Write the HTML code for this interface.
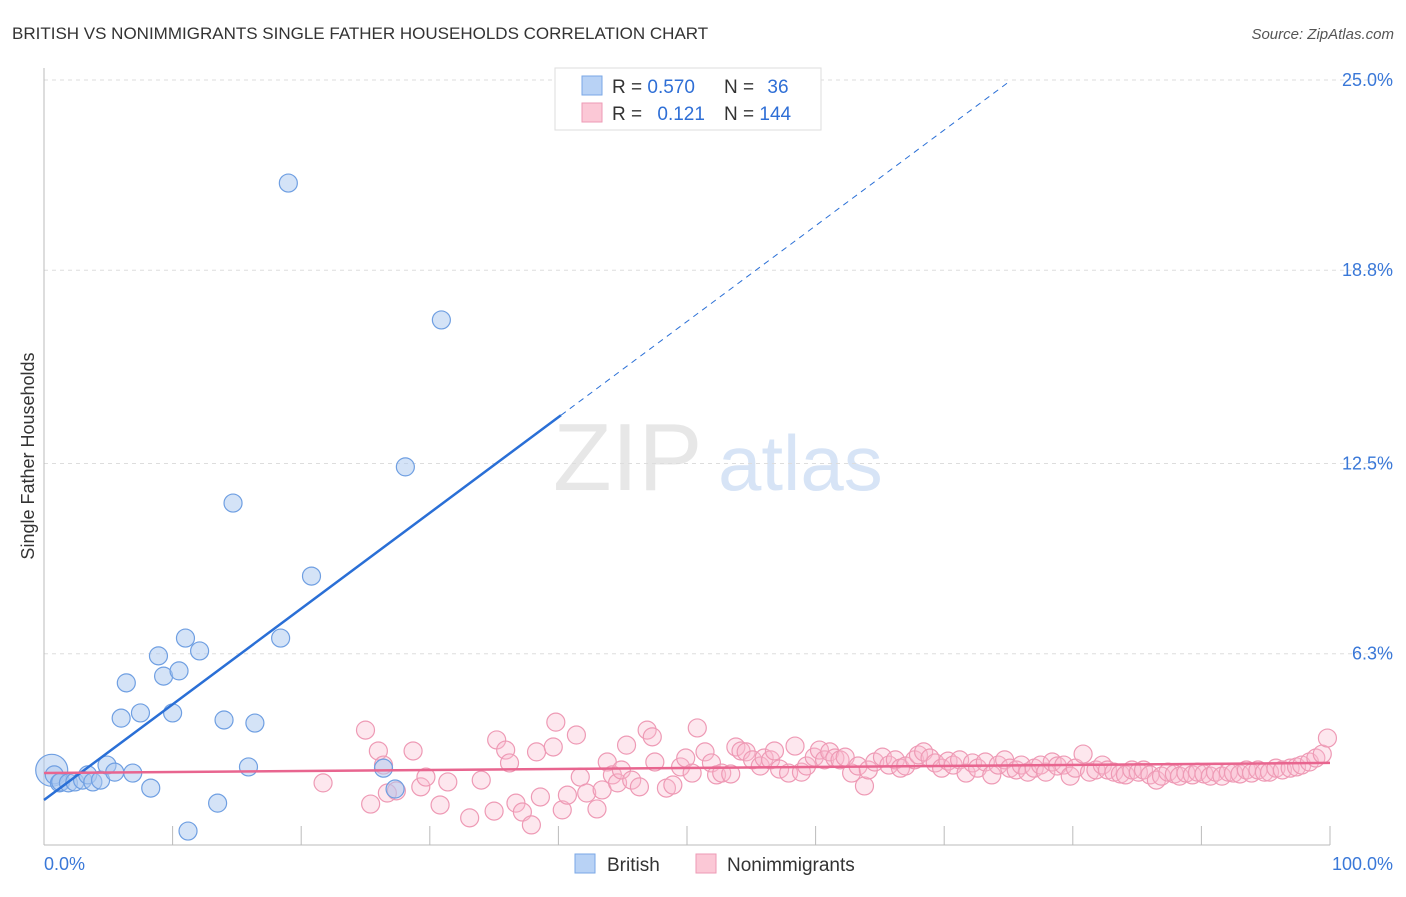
<!DOCTYPE html>
<html><head><meta charset="utf-8"><style>
body{margin:0;background:#fff;font-family:"Liberation Sans",sans-serif;}
svg text{font-family:"Liberation Sans",sans-serif;}
</style></head><body>
<svg id="c" width="1406" height="892">
<text x="12" y="39" font-size="17" fill="#333">BRITISH VS NONIMMIGRANTS SINGLE FATHER HOUSEHOLDS CORRELATION CHART</text>
<text x="1394" y="39" font-size="15" fill="#555" font-style="italic" text-anchor="end">Source: ZipAtlas.com</text>
<g opacity="0.35">
<text x="553" y="490" font-size="96" font-family="Liberation Serif" fill="#bbb">ZIP</text>
<text x="718" y="490" font-size="78" fill="#8fb3e6">atlas</text>
</g>
<g id="grid"></g><g id="axes"></g><g id="pts"></g><g id="lines"></g>
<g>
<rect x="555" y="68" width="266" height="62" fill="#fff" stroke="#ddd"/>
<rect x="582" y="76" width="20" height="19" fill="#b8d2f5" stroke="#7aa7e6"/>
<text x="612" y="93" font-size="19" fill="#333">R = <tspan fill="#2f6fd6">0.570</tspan></text>
<text x="724" y="93" font-size="19" fill="#333">N = <tspan fill="#2f6fd6" dx="8">36</tspan></text>
<rect x="582" y="103" width="20" height="19" fill="#fbc8d6" stroke="#ee9ab5"/>
<text x="612" y="120" font-size="19" fill="#333">R = <tspan fill="#2f6fd6" dx="10">0.121</tspan></text>
<text x="724" y="120" font-size="19" fill="#333">N = <tspan fill="#2f6fd6">144</tspan></text>
</g>
<g>
<rect x="575" y="854" width="20" height="19" fill="#b8d2f5" stroke="#7aa7e6"/>
<text x="607" y="871" font-size="19" fill="#333">British</text>
<rect x="696" y="854" width="20" height="19" fill="#fbc8d6" stroke="#ee9ab5"/>
<text x="727" y="871" font-size="19" fill="#333">Nonimmigrants</text>
</g>
<text transform="translate(34,456) rotate(-90)" font-size="18" fill="#333" text-anchor="middle">Single Father Households</text>
</svg>
<script>
const yTicks=[6.3,12.5,18.8,25.0];
const yTickLabels=["6.3%","12.5%","18.8%","25.0%"];
const britX=[0.6,0.8,1.2,1.3,1.9,2.4,3.0,3.4,3.8,4.4,4.9,5.5,6.0,6.4,6.9,7.5,8.3,8.9,9.3,10.0,10.5,11.0,11.2,12.1,13.5,14.0,14.7,15.9,16.4,18.4,19.0,20.8,26.4,27.3,28.1,30.9];
const britY=[2.5,2.35,2.09,2.12,2.09,2.12,2.18,2.35,2.12,2.18,2.67,2.44,4.2,5.35,2.41,4.37,1.92,6.23,5.57,4.37,5.74,6.81,0.52,6.39,1.43,4.14,11.21,2.61,4.04,6.81,21.64,8.83,2.57,1.89,12.39,17.18];
const nonX=[21.7,25.0,25.4,26.0,26.4,26.7,27.4,28.7,29.3,29.7,30.8,31.4,33.1,34.0,35.0,35.2,35.9,36.2,36.7,37.2,37.9,38.3,38.6,39.6,39.8,40.3,40.7,41.4,41.7,42.2,43.0,43.4,43.8,44.2,44.6,44.9,45.3,45.7,46.3,46.9,47.3,47.5,48.4,48.9,49.5,49.9,50.4,50.8,51.4,51.9,52.3,52.7,53.4,53.8,54.2,54.6,55.1,55.7,56.0,56.5,56.8,57.2,57.9,58.4,58.9,59.3,59.9,60.3,60.7,61.1,61.5,61.9,62.3,62.8,63.3,63.8,64.1,64.6,65.2,65.7,66.2,66.6,67.0,67.7,68.0,68.4,68.9,69.3,69.8,70.3,70.7,71.2,71.7,72.2,72.6,73.2,73.7,74.2,74.7,75.1,75.6,76.0,76.5,77.0,77.5,77.9,78.4,78.8,79.3,79.8,80.2,80.8,81.3,81.8,82.3,82.7,83.2,83.7,84.1,84.6,85.1,85.5,86.0,86.5,86.9,87.4,87.9,88.3,88.8,89.3,89.7,90.2,90.7,91.1,91.6,92.1,92.5,93.0,93.5,93.9,94.4,94.9,95.3,95.8,96.3,96.9,97.4,97.8,98.4,98.9,99.4,99.8];
const nonY=[2.09,3.81,1.40,3.13,2.67,1.76,1.83,3.13,1.96,2.28,1.37,2.12,0.95,2.18,1.17,3.49,3.16,2.74,1.43,1.14,0.72,3.10,1.63,3.26,4.07,1.21,1.69,3.65,2.28,1.76,1.24,1.86,2.77,2.35,2.09,2.51,3.32,2.18,1.96,3.81,3.59,2.77,1.92,2.02,2.61,2.90,2.41,3.88,3.10,2.74,2.35,2.41,2.38,3.26,3.13,3.10,2.84,2.64,2.90,2.84,3.13,2.54,2.41,3.29,2.44,2.64,2.93,3.16,2.84,3.10,2.90,2.84,2.93,2.41,2.64,1.99,2.51,2.77,2.93,2.67,2.84,2.57,2.64,2.84,3.00,3.10,2.90,2.74,2.57,2.80,2.67,2.84,2.41,2.74,2.57,2.77,2.35,2.67,2.84,2.57,2.51,2.67,2.44,2.57,2.67,2.44,2.77,2.64,2.67,2.31,2.57,3.03,2.44,2.51,2.67,2.51,2.44,2.38,2.35,2.51,2.44,2.51,2.35,2.18,2.31,2.44,2.38,2.31,2.41,2.35,2.44,2.38,2.31,2.44,2.31,2.44,2.41,2.38,2.51,2.41,2.51,2.44,2.44,2.57,2.51,2.57,2.61,2.67,2.77,2.90,3.03,3.55];
const britTrend=[1.53,0.312];   // intercept, slope per %
const nonTrend=[2.41,0.0033];
const X=v=>44+v*12.86, Y=v=>847-v*30.68;
const NS="http://www.w3.org/2000/svg";
function mk(t,a,p){const e=document.createElementNS(NS,t);for(const k in a)e.setAttribute(k,a[k]);p.appendChild(e);return e;}
const grid=document.getElementById('grid'),axes=document.getElementById('axes'),pts=document.getElementById('pts'),lines=document.getElementById('lines');
yTicks.forEach((t,i)=>{
 const g=mk('line',{x1:44,x2:1395,y1:Y(t),y2:Y(t),stroke:'#ddd','stroke-dasharray':'4,4'},grid);
 
 
 const l=mk('text',{x:1393,y:Y(t)+6,'font-size':18,fill:'#3a78d8','text-anchor':'end'},grid);
 l.textContent=yTickLabels[i];
 
 
});
mk('line',{x1:44,x2:44,y1:68,y2:845,stroke:'#bbb'},axes);
mk('line',{x1:44,x2:1330,y1:845,y2:845,stroke:'#bbb'},axes);
for(let i=1;i<=10;i++){const t=mk('line',{x1:X(i*10),x2:X(i*10),y1:826,y2:845,stroke:'#bbb'},axes);}
const xl0=mk('text',{x:44,y:870,'font-size':18,fill:'#3a78d8'},axes);xl0.textContent='0.0%';


const xl1=mk('text',{x:1393,y:870,'font-size':18,fill:'#3a78d8','text-anchor':'end'},axes);xl1.textContent='100.0%';


nonX.forEach((x,i)=>{const c=mk('circle',{cx:X(x),cy:Y(nonY[i]),r:9,fill:'rgba(248,185,205,0.35)',stroke:'#ee9ab5','stroke-width':1.2},pts);
 
 });
britX.forEach((x,i)=>{const c=mk('circle',{cx:X(x),cy:Y(britY[i]),r:i==0?16:9,fill:'rgba(170,200,240,0.5)',stroke:'#6f9fe2','stroke-width':1.2},pts);
 
 });
const bl=mk('line',{x1:X(0),y1:Y(britTrend[0]),x2:X(40.2),y2:Y(britTrend[0]+britTrend[1]*40.2),stroke:'#2a6fd6','stroke-width':2.5},lines);


const bd=mk('line',{x1:X(40.2),y1:Y(britTrend[0]+britTrend[1]*40.2),x2:X(75.1),y2:Y(britTrend[0]+britTrend[1]*75.1),stroke:'#2a6fd6','stroke-width':1,'stroke-dasharray':'6,5'},lines);


const nl=mk('line',{x1:X(0),y1:Y(nonTrend[0]),x2:X(100),y2:Y(nonTrend[0]+nonTrend[1]*100),stroke:'#e8658f','stroke-width':2.5},lines);


</script>
</body></html>
